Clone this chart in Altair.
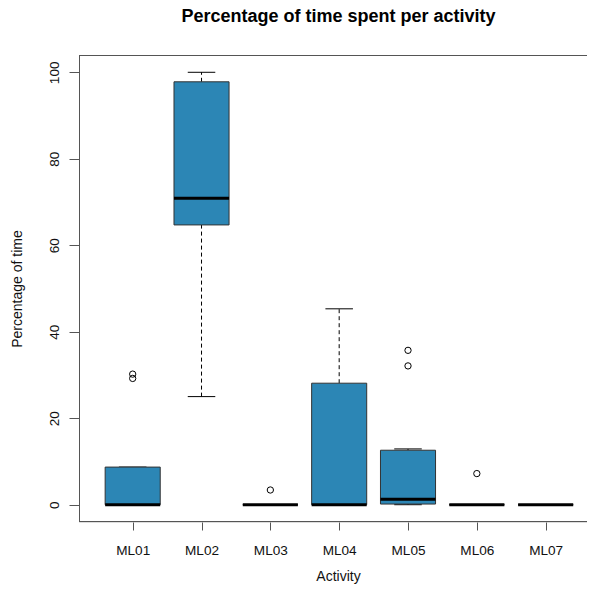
import json
import altair as alt
import pandas as pd

categories = ["ML01", "ML02", "ML03", "ML04", "ML05", "ML06", "ML07"]
lower_whisker = [0, 25.0, 0, 0, 0, 0, 0]
q1 = [0, 64.7, 0, 0, 0.15, 0, 0]
median = [0, 70.9, 0, 0, 1.25, 0, 0]
q3 = [8.7, 97.8, 0, 28.1, 12.6, 0, 0]
upper_whisker = [8.7, 100.0, 0, 45.3, 12.9, 0, 0]

outlier_cat = ["ML01", "ML01", "ML03", "ML05", "ML05", "ML06"]
outlier_val = [30.2, 29.2, 3.4, 35.7, 32.1, 7.2]

y_ticks = [0, 20, 40, 60, 80, 100]

FONT = "Liberation Sans"
FILL = "#2C86B5"
FRAME = "#555"
W, H = 508, 467

boxes = pd.DataFrame({
    "cat": categories,
    "idx": list(range(1, len(categories) + 1)),
    "lower": lower_whisker,
    "q1": q1,
    "median": median,
    "q3": q3,
    "upper": upper_whisker,
})
outs = pd.DataFrame({
    "cat": outlier_cat,
    "idx": [categories.index(c) + 1 for c in outlier_cat],
    "value": outlier_val,
})

xs = alt.Scale(domain=[0.22, 0.22 + W / 68.83], nice=False, zero=False)
ys = alt.Scale(domain=[-4, 104], nice=False, zero=False)

label_expr = json.dumps(categories) + "[datum.value - 1]"

x_axis = alt.Axis(
    values=list(range(1, len(categories) + 1)), labelExpr=label_expr,
    title="Activity", grid=False, domain=False, tickSize=8, tickColor=FRAME,
    labelFont=FONT, labelFontSize=13.6, labelColor="#111", labelBaseline="alphabetic",
    labelPadding=24, titleFont=FONT, titleFontSize=14, titleFontWeight="normal",
    titleColor="#111", titleBaseline="alphabetic", titleX=259, titleY=58.5,
    titleAnchor="start", titleAlign="center",
)
y_axis = alt.Axis(
    values=y_ticks, title="Percentage of time", grid=False, domain=False,
    tickSize=10, tickColor=FRAME, labelFont=FONT, labelFontSize=13.6,
    labelColor="#111", labelAngle=270, labelAlign="center",
    labelBaseline="alphabetic", labelPadding=10.7, titleFont=FONT,
    titleFontSize=14, titleFontWeight="normal", titleColor="#111",
    titleAngle=270, titleAlign="center", titleBaseline="alphabetic",
    titleX=-58, titleY=233.5, titleAnchor="start",
)

X = lambda f: alt.X(f, scale=xs, axis=x_axis, title="Activity")
Y = lambda f: alt.Y(f, scale=ys, axis=y_axis, title="Percentage of time")

base = alt.Chart(boxes).transform_calculate(
    box_l="datum.idx - 0.4", box_r="datum.idx + 0.4",
    cap_l="datum.idx - 0.2", cap_r="datum.idx + 0.2",
)

# plot frame (left, top, bottom; the right edge lies beyond the picture)
frame_top = base.mark_rule(color=FRAME, strokeWidth=1).encode(
    x=alt.value(0), x2=alt.value(W), y=alt.value(0.5))
frame_bot = base.mark_rule(color=FRAME, strokeWidth=1).encode(
    x=alt.value(0), x2=alt.value(W), y=alt.value(H - 0.5))
frame_left = base.mark_rule(color=FRAME, strokeWidth=1).encode(
    x=alt.value(0.5), y=alt.value(0), y2=alt.value(H))

upper_w = base.mark_rule(color="black", strokeWidth=1, strokeDash=[4, 3]).encode(
    x=X("idx:Q"), y=Y("q3:Q"), y2="upper:Q",
)
lower_w = base.mark_rule(color="black", strokeWidth=1, strokeDash=[4, 3]).encode(
    x=X("idx:Q"), y=Y("lower:Q"), y2="q1:Q",
)
upper_cap = base.mark_rule(color="black", strokeWidth=1).encode(
    x=X("cap_l:Q"), x2="cap_r:Q", y=Y("upper:Q"),
)
lower_cap = base.mark_rule(color="black", strokeWidth=1).encode(
    x=X("cap_l:Q"), x2="cap_r:Q", y=Y("lower:Q"),
)
box = base.mark_bar(fill=FILL, stroke="#333", strokeWidth=1).encode(
    x=X("box_l:Q"), x2="box_r:Q", y=Y("q1:Q"), y2="q3:Q",
)
med = base.mark_rule(color="black", strokeWidth=3).encode(
    x=X("box_l:Q"), x2="box_r:Q", y=Y("median:Q"),
)
points = alt.Chart(outs).mark_point(
    shape="circle", filled=False, color="black", size=40, strokeWidth=1, opacity=1
).encode(
    x=X("idx:Q"), y=Y("value:Q"),
)

chart = alt.layer(
    upper_w, lower_w, upper_cap, lower_cap, box, med, points,
    frame_top, frame_bot, frame_left,
).properties(
    width=W, height=H,
    title=alt.TitleParams(
        "Percentage of time spent per activity", font=FONT, fontSize=18,
        fontWeight="bold", color="black", anchor="middle", baseline="alphabetic",
        dx=5.5, offset=14.5,
    ),
    autosize=alt.AutoSizeParams(type="none"),
    padding={"left": 71, "top": 47, "right": 0, "bottom": 62},
).configure_view(stroke=None).configure(background="white")

chart.save("out.html", embed_options={"renderer": "svg", "actions": False})
